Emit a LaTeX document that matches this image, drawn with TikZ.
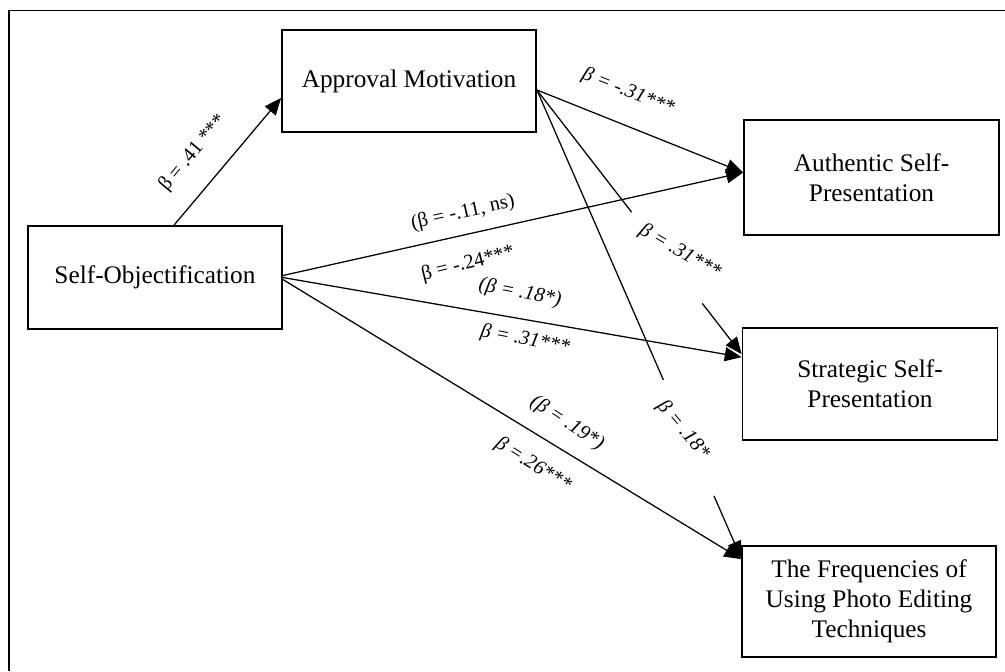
\documentclass[tikz,border=0pt]{standalone}
\usepackage{fontspec}
\setmainfont{Liberation Serif}
\usetikzlibrary{arrows.meta,positioning,calc}

\begin{document}
\begin{tikzpicture}[x=0.025cm, y=-0.025cm, >={Triangle[length=12pt,width=10pt]}, every node/.style={font=\fontsize{14.5}{17}\selectfont}]
\tikzstyle{block}=[draw, line width=1.2pt, align=center, inner sep=2pt, font=\fontsize{18}{21.5}\selectfont]
\tikzstyle{link}=[->, line width=0.9pt]
\tikzstyle{coef}=[inner sep=1pt]
\tikzstyle{coefit}=[inner sep=1pt, font=\fontsize{14.5}{17}\selectfont\itshape]
\useasboundingbox (0,0) rectangle (1005,671);
% frame
\draw[line width=1.4pt] (9,671) -- (9,10.5) -- (1005,10.5);
% boxes
\node[block, minimum width=6.35cm, minimum height=2.55cm] (appr) at (409,81) {Approval Motivation};
\node[block, minimum width=6.35cm, minimum height=2.575cm] (self) at (155,277.5) {Self-Objectification};
\node[block, minimum width=6.375cm, minimum height=2.875cm] (auth) at (871.5,177.5) {Authentic Self-\\Presentation};
\node[block, minimum width=6.375cm, minimum height=2.8cm] (strat) at (870,384) {Strategic Self-\\Presentation};
\node[block, minimum width=6.35cm, minimum height=2.775cm] (freq) at (869,601.5) {The Frequencies of\\Using Photo Editing\\Techniques};
% paths from self-objectification
\draw[link] ($(self.north)+(19,0)$) -- ($(appr.west)+(0,17)$);
\draw[link] ($(self.east)+(0,-2)$) -- ($(auth.west)+(0,-5)$);
\draw[link] (self.east) -- ($(strat.north west)+(0,30)$);
\draw[link] ($(self.east)+(0,2)$) -- ($(freq.north west)+(0,14)$);
% paths from approval motivation
\draw[link] (appr.-4) -- ($(auth.west)+(0,-5)$);
\draw[link, dash pattern=on 110pt off 82pt on 300pt] (appr.-4) -- ($(strat.north west)+(0,27)$);
\draw[link, dash pattern=on 225pt off 90pt on 300pt] (appr.-4) -- ($(freq.north west)+(0,13)$);
% coefficients
\node[coef, rotate=50] (b41) at (193,153) {β = .41 ***};
\node[coefit, rotate=-21.6] (b31a) at (628,92) {β = -.31***};
\node[coef, rotate=12.5] (b11) at (463,213) {(β = -.11, ns)};
\node[coef, rotate=14] (b24) at (468,264) {β = -.24***};
\node[coefit, rotate=-11] (b18a) at (520,293) {(β = .18*)};
\node[coefit, rotate=-11] (b31b) at (525,340) {β = .31***};
\node[coefit, rotate=-30] (b31c) at (680,252) {β = .31***};
\node[coefit, rotate=-50] (b18b) at (683,430) {β = .18*};
\node[coefit, rotate=-33] (b19) at (567,423) {(β = .19*)};
\node[coefit, rotate=-32] (b26) at (533,465) {β =.26***};
\end{tikzpicture}
\end{document}
